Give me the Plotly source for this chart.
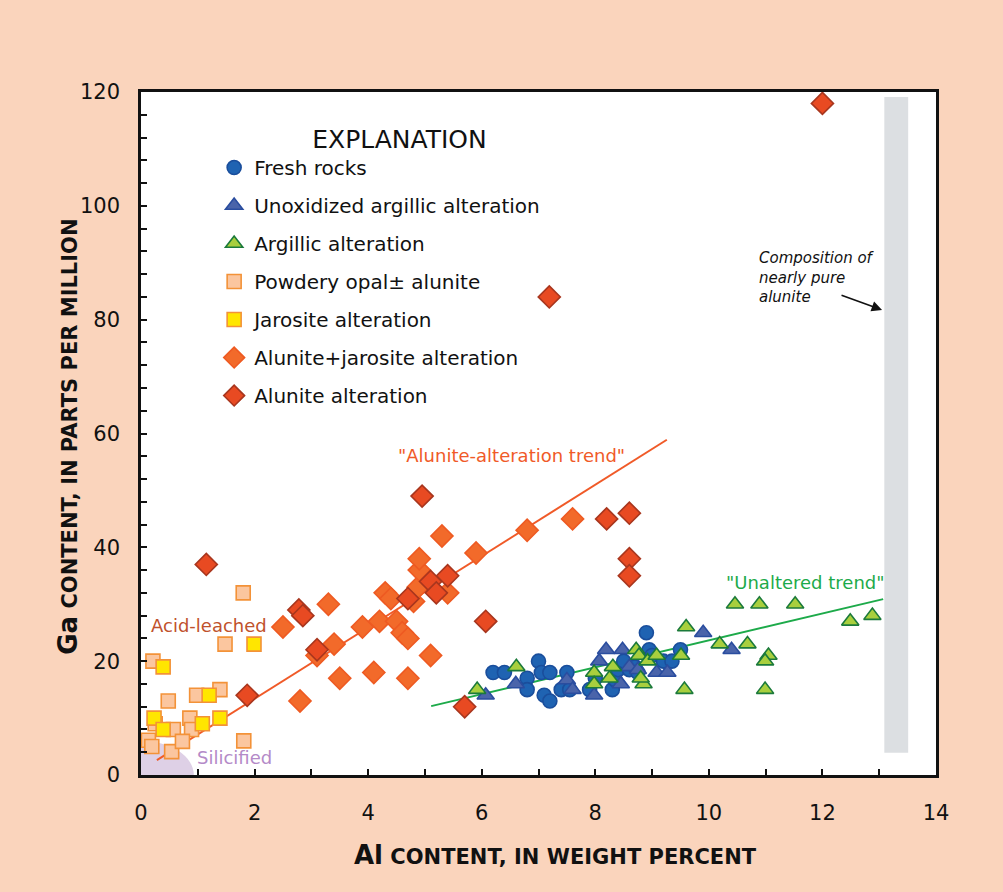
import plotly.graph_objects as go

# ---------------- data ----------------
fresh_x = [6.2, 6.4, 6.8, 6.8, 7.0, 7.05, 7.2, 7.1, 7.2, 7.4, 7.5, 7.55, 7.9, 8.0, 8.3, 8.35, 8.4, 8.6, 8.7, 8.75, 8.9, 8.95, 9.0, 9.2, 9.35, 9.5, 8.5]
fresh_y = [18, 18, 17, 15, 20, 18, 18, 14, 13, 15, 18, 15, 15, 17, 15, 16.7, 18.5, 18.5, 19, 18, 25, 22, 21, 20, 20, 22, 20]

unox_x = [6.07, 6.6, 7.5, 7.6, 7.98, 8.07, 8.19, 8.45, 8.48, 8.6, 8.75, 9.08, 9.27, 9.9, 10.4]
unox_y = [14, 16, 16.7, 15, 14, 20, 22, 16, 22, 19, 18.5, 18, 18, 25, 22]

arg_x = [5.92, 6.61, 7.98, 7.98, 8.25, 8.31, 8.72, 8.77, 8.85, 8.92, 9.08, 9.51, 9.6, 9.57, 10.46, 10.89, 11.52, 12.49, 12.88, 10.19, 10.68, 11.05, 10.99, 10.99, 8.8]
arg_y = [15, 19, 18, 16, 17, 19, 22, 21, 16, 20, 21, 21, 26, 15, 30, 30, 30, 27, 28, 23, 23, 21, 20, 15, 17]

pow_x = [0.21, 1.80, 1.48, 0.48, 0.98, 1.39, 0.86, 0.13, 0.19, 0.54, 0.57, 0.89, 0.73, 1.81, 0.25]
pow_y = [20, 32, 23, 13, 14, 15, 10, 6.1, 5.0, 4.1, 8, 8, 5.9, 6, 9]

jar_x = [0.39, 1.99, 1.20, 0.23, 0.39, 1.08, 1.39]
jar_y = [19, 23, 14, 10, 8, 9, 10]

aj_x = [2.5, 2.8, 3.1, 3.3, 3.4, 3.5, 3.9, 4.1, 4.2, 4.3, 4.4, 4.5, 4.6, 4.7, 4.7, 4.8, 4.88, 4.9, 4.9, 5.1, 5.3, 5.4, 5.9, 6.8, 7.6]
aj_y = [26, 13, 21, 30, 23, 17, 26, 18, 27, 32, 31, 27, 25, 24, 17, 30.5, 33, 36, 38, 21, 42, 32, 39, 43, 45]

al_x = [1.15, 1.87, 2.78, 2.85, 3.1, 4.7, 4.95, 5.1, 5.2, 5.4, 5.7, 6.07, 7.19, 8.2, 8.6, 8.6, 8.6, 12.0]
al_y = [37, 14, 29, 28, 22, 31, 49, 34, 32, 35, 12, 27, 84, 45, 46, 38, 35, 118]

alunite_trend_x = [0.28, 9.26]
alunite_trend_y = [2.6, 58.9]
unaltered_trend_x = [5.11, 13.07]
unaltered_trend_y = [12.1, 30.9]

alunite_band_x = [13.09, 13.51]
alunite_band_y = [3.9, 119.1]
silicified_rx = 0.93
silicified_ry = 6.0

x_ticks = [0, 2, 4, 6, 8, 10, 12, 14]
y_ticks = [0, 20, 40, 60, 80, 100, 120]

# ---------------- figure ----------------
FONT = "DejaVu Sans, Verdana, sans-serif"
fig = go.Figure()

series = [
    ("Fresh rocks", fresh_x, fresh_y, "circle", 14, "#1F63B2", "#1A4E9C"),
    ("Unoxidized argillic alteration", unox_x, unox_y, "triangle-up", 15, "#4A64AA", "#2A4D9F"),
    ("Argillic alteration", arg_x, arg_y, "triangle-up", 15, "#A8CF3E", "#1B7A3B"),
    ("Powdery opal\u00b1 alunite", pow_x, pow_y, "square", 14, "#FBC69F", "#F39238"),
    ("Jarosite alteration", jar_x, jar_y, "square", 14, "#FFE600", "#F39238"),
    ("Alunite+jarosite alteration", aj_x, aj_y, "diamond", 17, "#F26A2A", "#EE5A22"),
    ("Alunite alteration", al_x, al_y, "diamond", 17, "#E84A22", "#A8361E"),
]

# trend lines (under markers)
fig.add_trace(go.Scatter(x=alunite_trend_x, y=alunite_trend_y, mode="lines",
                         line=dict(color="#F05A28", width=2), showlegend=False, hoverinfo="skip"))
fig.add_trace(go.Scatter(x=unaltered_trend_x, y=unaltered_trend_y, mode="lines",
                         line=dict(color="#1DAA4A", width=2), showlegend=False, hoverinfo="skip"))

for i, (name, xs, ys, sym, size, fill, edge) in enumerate(series):
    fig.add_trace(go.Scatter(
        x=xs, y=ys, mode="markers", name=name, legendgroup=f"g{i}",
        marker=dict(symbol=sym, size=size, color=fill, line=dict(color=edge, width=1.6)),
    ))

# shapes
fig.add_shape(type="rect", xref="x", yref="y",
              x0=alunite_band_x[0], x1=alunite_band_x[1], y0=alunite_band_y[0], y1=alunite_band_y[1],
              fillcolor="#DCDFE2", line=dict(width=0), layer="below")
fig.add_shape(type="circle", xref="x", yref="y",
              x0=-silicified_rx, x1=silicified_rx, y0=-silicified_ry, y1=silicified_ry,
              fillcolor="#DED0E6", line=dict(width=0), layer="below")

# annotations
fig.add_annotation(x=6.53, y=56.1, text='"Alunite-alteration trend"', showarrow=False,
                   font=dict(family=FONT, size=18, color="#F05A28"))
fig.add_annotation(x=11.71, y=33.9, text='"Unaltered trend"', showarrow=False,
                   font=dict(family=FONT, size=18, color="#1DAA4A"))
fig.add_annotation(x=1.20, y=26.2, text="Acid-leached", showarrow=False,
                   font=dict(family=FONT, size=18, color="#C0522C"))
fig.add_annotation(x=1.64, y=3.0, text="Silicified", showarrow=False,
                   font=dict(family=FONT, size=18, color="#B48AC8"))
fig.add_annotation(x=10.85, y=87.4, text="<i>Composition of<br>nearly pure<br>alunite</i>",
                   showarrow=False, xanchor="left", align="left",
                   font=dict(family=FONT, size=15, color="#111111"))
fig.add_annotation(x=13.05, y=81.7, ax=12.31, ay=84.4, axref="x", ayref="y", text="",
                   showarrow=True, arrowhead=2, arrowsize=1.3, arrowwidth=1.6, arrowcolor="#111111")

# axis titles
fig.add_annotation(xref="paper", yref="paper", x=0.521, y=-0.117, xanchor="center", yanchor="middle",
                   showarrow=False,
                   text="<b><span style='font-size:26px'>Al</span> CONTENT, IN WEIGHT PERCENT</b>",
                   font=dict(family=FONT, size=21, color="#111111"))
fig.add_annotation(xref="paper", yref="paper", x=-0.092, y=0.495, xanchor="center", yanchor="middle",
                   showarrow=False, textangle=-90,
                   text="<b><span style='font-size:26px'>Ga</span> CONTENT, IN PARTS PER MILLION</b>",
                   font=dict(family=FONT, size=21, color="#111111"))

fig.update_xaxes(range=[0, 14], tickvals=x_ticks, ticktext=[str(v) for v in x_ticks],
                 showgrid=False, zeroline=False, showline=True, linecolor="#111111", linewidth=2.5,
                 mirror=True, ticks="inside", ticklen=6, tickwidth=2, tickcolor="#111111",
                 minor=dict(dtick=1, ticks="inside", ticklen=6, tickwidth=2, tickcolor="#111111"),
                 tickfont=dict(family=FONT, size=21, color="#111111"), ticklabelstandoff=17)
fig.update_yaxes(range=[0, 120], tickvals=y_ticks, ticktext=[str(v) for v in y_ticks],
                 showgrid=False, zeroline=False, showline=True, linecolor="#111111", linewidth=2.5,
                 mirror=True, ticks="inside", ticklen=6, tickwidth=2, tickcolor="#111111",
                 minor=dict(dtick=4, ticks="inside", ticklen=6, tickwidth=2, tickcolor="#111111"),
                 tickfont=dict(family=FONT, size=21, color="#111111"), ticklabelstandoff=14)

fig.update_layout(
    width=1003, height=892,
    margin=dict(l=141, r=67, t=92, b=117),
    paper_bgcolor="#FAD4BC", plot_bgcolor="#FFFFFF",
    showlegend=True,
    legend=dict(x=0.092, y=0.9655, xanchor="left", yanchor="top",
                bgcolor="rgba(0,0,0,0)", traceorder="grouped", tracegroupgap=9,
                font=dict(family=FONT, size=20, color="#111111"),
                title=dict(text="\u00a0\u00a0\u00a0\u00a0\u00a0EXPLANATION",
                           side="top center",
                           font=dict(family=FONT, size=25, color="#111111"))),
    font=dict(family=FONT),
)

fig.write_html("out.html", config={"displayModeBar": False},
               post_script="document.body.style.margin='0';document.body.style.overflow='hidden';")
